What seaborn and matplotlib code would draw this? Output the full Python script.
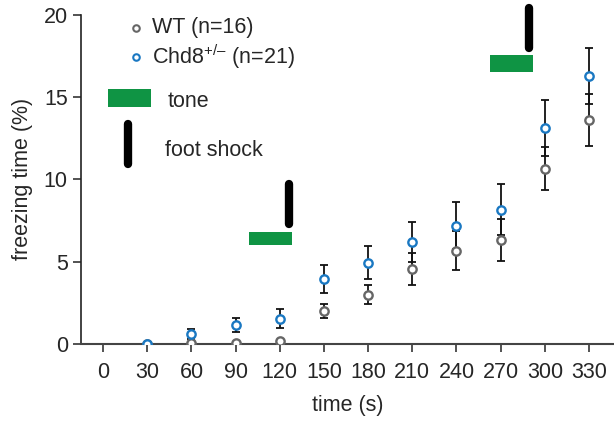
import matplotlib
matplotlib.use('Agg')
import matplotlib.pyplot as plt
import seaborn as sns
import pandas as pd

# Data
time_s = [30, 60, 90, 120, 150, 180, 210, 240, 270, 300, 330]
wt_mean = [0.0, 0.05, 0.05, 0.15, 2.0, 3.0, 4.55, 5.67, 6.32, 10.64, 13.6]
wt_sem = [0.0, 0.0, 0.0, 0.0, 0.4, 0.58, 0.95, 1.17, 1.27, 1.31, 1.57]
chd8_mean = [0.0, 0.6, 1.15, 1.54, 3.97, 4.92, 6.2, 7.19, 8.15, 13.1, 16.27]
chd8_sem = [0.0, 0.3, 0.45, 0.6, 0.85, 1.0, 1.22, 1.42, 1.55, 1.7, 1.7]

# tone blocks (start, end, y-low, y-high) and foot shocks (x, y-low, y-high)
tone_x = [(99, 128), (263, 292)]
tone_y = [(6.0, 6.8), (16.5, 17.55)]
shock_x = [126, 289]
shock_y = [(7.3, 9.7), (18.0, 20.4)]

xticks = list(range(0, 331, 30))

groups = {'WT': (wt_mean, wt_sem), 'Chd8': (chd8_mean, chd8_sem)}

sns.set_style("ticks")
plt.rcParams['font.family'] = ['Liberation Sans', 'DejaVu Sans']
plt.rcParams['mathtext.fontset'] = 'custom'
plt.rcParams['mathtext.rm'] = 'Liberation Sans'

gray = '#666666'
blue = '#1a78c2'
green = '#0f9444'
colors = {'WT': gray, 'Chd8': blue}
fs = 15.5

fig = plt.figure(figsize=(6.14, 4.23), dpi=100)
ax = fig.add_axes([0.132, 0.187, 0.868, 0.778])

# error bars first, markers on top
for g, (m, e) in groups.items():
    d = pd.DataFrame({'time': time_s, 'freezing': m, 'sem': e})
    d = d[d['sem'] > 0]
    ax.errorbar(d['time'], d['freezing'], yerr=d['sem'], fmt='none', ecolor='#111111',
                elinewidth=1.3, capsize=3, capthick=1.3, zorder=2)

for g, (m, e) in groups.items():
    sns.scatterplot(x=time_s, y=m, marker='o', s=36, linewidth=1.7, legend=False, ax=ax, zorder=3)
    coll = ax.collections[-1]
    coll.set_facecolor('white')
    coll.set_edgecolor(colors[g])

# tone and shock annotations
for (x0, x1), (y0, y1) in zip(tone_x, tone_y):
    ax.fill_between([x0, x1], y0, y1, color=green, linewidth=0, zorder=1)
for x, (y0, y1) in zip(shock_x, shock_y):
    ax.plot([x, x], [y0, y1], color='black', linewidth=6, solid_capstyle='round', clip_on=False)

# legend drawn in axes coords
ax.scatter([0.103], [0.960], transform=ax.transAxes, s=22, facecolor='white',
           edgecolor=gray, linewidth=1.5, clip_on=False)
ax.text(0.133, 0.960, 'WT (n=16)', transform=ax.transAxes, fontsize=fs, va='center')
ax.scatter([0.103], [0.872], transform=ax.transAxes, s=22, facecolor='white',
           edgecolor=blue, linewidth=1.5, clip_on=False)
ax.text(0.133, 0.872, 'Chd8$^{+/\u2013}$ (n=21)', transform=ax.transAxes, fontsize=fs, va='center')
ax.fill_between([0.051, 0.131], 0.72, 0.775, transform=ax.transAxes, color=green, linewidth=0)
ax.text(0.163, 0.736, 'tone', transform=ax.transAxes, fontsize=fs, va='center')
ax.plot([0.088, 0.088], [0.547, 0.669], transform=ax.transAxes, color='black',
        linewidth=6, solid_capstyle='round')
ax.text(0.158, 0.587, 'foot shock', transform=ax.transAxes, fontsize=fs, va='center')

ax.set_xlim(-15, 347)
ax.set_ylim(0, 20)
ax.set_xticks(xticks)
ax.set_yticks([0, 5, 10, 15, 20])
ax.set_xlabel('time (s)', fontsize=fs, labelpad=9)
ax.set_ylabel('freezing time (%)', fontsize=fs, labelpad=8)
ax.tick_params(axis='both', labelsize=fs, length=6, width=1.3, color='#444444')
ax.tick_params(axis='x', pad=7)
sns.despine(ax=ax)
ax.spines['left'].set_linewidth(1.2)
ax.spines['bottom'].set_linewidth(1.5)
ax.spines['left'].set_color('#222222')
ax.spines['bottom'].set_color('#444444')

fig.savefig('out.png', dpi=100)
plt.close(fig)
